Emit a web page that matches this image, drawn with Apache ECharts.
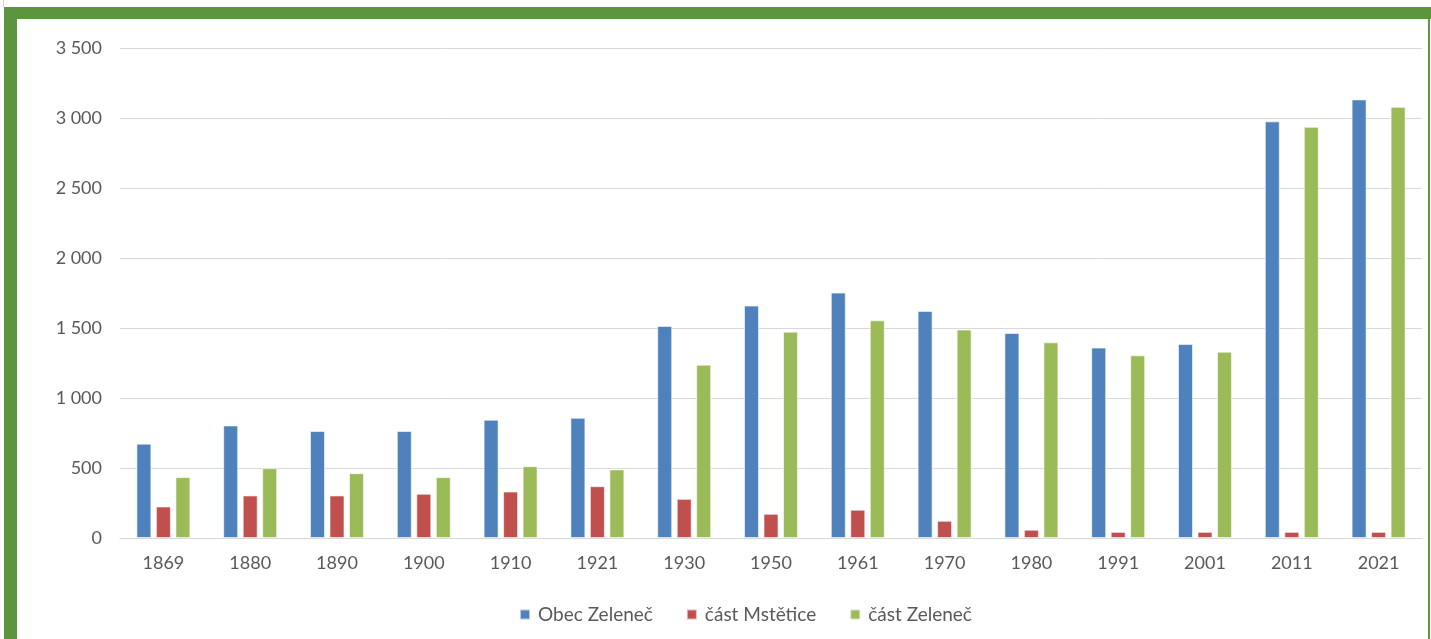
<!DOCTYPE html>
<html><head><meta charset="utf-8">
<script src="https://cdn.jsdelivr.net/npm/echarts@6/dist/echarts.min.js"></script>
<style>html,body{margin:0;padding:0;background:#fff}#c{width:1431px;height:639px}</style>
</head><body><div id="c"></div>
<script>
const categories = ['1869','1880','1890','1900','1910','1921','1930','1950','1961','1970','1980','1991','2001','2011','2021'];
const obecZelenec = [674, 804, 764, 764, 845, 859, 1515, 1660, 1753, 1622, 1464, 1360, 1386, 2976, 3133];
const castMstetice = [225, 304, 304, 316, 332, 370, 280, 173, 202, 123, 59, 44, 44, 44, 44];
const castZelenec = [435, 499, 463, 435, 513, 490, 1238, 1474, 1555, 1489, 1398, 1305, 1331, 2937, 3080];
const seriesNames = ['Obec Zeleneč', 'část Mstětice', 'část Zeleneč'];
const yTicks = [0, 500, 1000, 1500, 2000, 2500, 3000, 3500];

const fontFam = 'Lato, "Open Sans", sans-serif';
const green = '#5B963E';
const chart = echarts.init(document.getElementById('c'), null, {renderer: 'canvas'});
function bar(name, data, color) {
  return {name, type: 'bar', data, barWidth: 15, barGap: '30%',
    itemStyle: {color, borderColor: 'rgba(255,255,255,0.6)', borderWidth: 1}};
}
chart.setOption({
  animation: false,
  textStyle: {fontFamily: fontFam},
  grid: {left: 120, right: 9, top: 48, bottom: 101},
  legend: {top: 600, left: 514, icon: 'rect', itemWidth: 10, itemHeight: 10, itemGap: 33,
    textStyle: {color: '#595959', fontSize: 19, fontFamily: fontFam, padding: [0, 0, 0, 3]}, data: seriesNames},
  xAxis: {type: 'category', data: categories,
    axisLine: {lineStyle: {color: '#D9D9D9', width: 1}}, axisTick: {show: false},
    axisLabel: {color: '#595959', fontSize: 18, margin: 16}},
  yAxis: {type: 'value', min: yTicks[0], max: yTicks[yTicks.length - 1], interval: 500,
    axisLine: {show: false}, axisTick: {show: false},
    splitLine: {lineStyle: {color: '#D9D9D9', width: 1}},
    axisLabel: {color: '#595959', fontSize: 18, margin: 18,
      formatter: v => String(v).replace(/\B(?=(\d{3})+(?!\d))/g, ' ')}},
  graphic: [
    {type: 'rect', silent: true, shape: {x: 4, y: 7, width: 13, height: 632}, style: {fill: green}},
    {type: 'rect', silent: true, shape: {x: 4, y: 7, width: 1427, height: 12}, style: {fill: green}},
    {type: 'rect', silent: true, shape: {x: 1428, y: 7, width: 2, height: 632}, style: {fill: green}},
    {type: 'rect', silent: true, shape: {x: 3, y: 0, width: 1, height: 7}, style: {fill: '#cfcfcf'}}
  ],
  series: [
    bar(seriesNames[0], obecZelenec, '#4F81BD'),
    bar(seriesNames[1], castMstetice, '#C0504D'),
    bar(seriesNames[2], castZelenec, '#9BBB59')
  ]
});
</script></body></html>
